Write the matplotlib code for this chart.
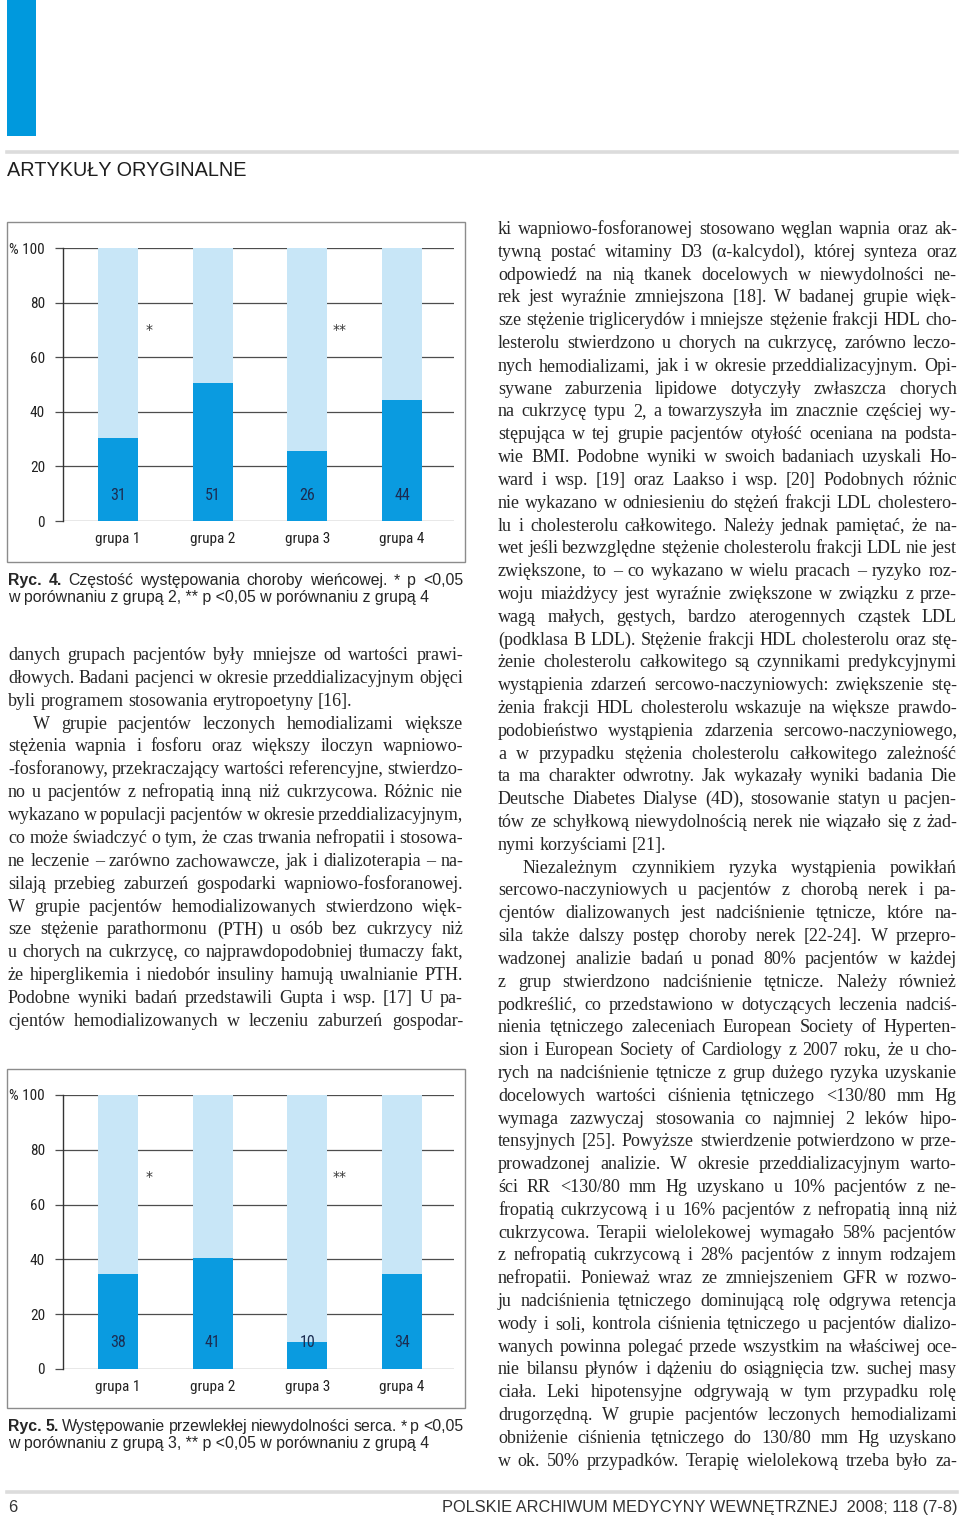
import matplotlib
matplotlib.use('Agg')
import matplotlib.pyplot as plt
from matplotlib.font_manager import FontProperties, fontManager
from matplotlib.patches import Rectangle
from matplotlib.lines import Line2D

# ---------------- data ----------------
groups = ['grupa 1', 'grupa 2', 'grupa 3', 'grupa 4']
fig4_values = [30.5, 50.5, 25.5, 44.5]
fig4_labels = ['31', '51', '26', '44']
fig5_values = [34.5, 40.5, 10, 34.5]
fig5_labels = ['38', '41', '10', '34']
yticks = [0, 20, 40, 60, 80, 100]
ytick_labels = ['0', '20', '40', '60', '80', '% 100']

header_text = 'ARTYKUŁY ORYGINALNE'
footer_left = '6'
footer_right = 'POLSKIE ARCHIWUM MEDYCYNY WEWNĘTRZNEJ  2008; 118 (7-8)'

cap4 = ['Ryc. 4.', 'Częstość występowania choroby wieńcowej. * p <0,05',
        'w porównaniu z grupą 2, ** p <0,05 w porównaniu z grupą 4']
cap5 = ['Ryc. 5.', 'Występowanie przewlekłej niewydolności serca. * p <0,05',
        'w porównaniu z grupą 3, ** p <0,05 w porównaniu z grupą 4']

left_lines = [
    'danych grupach pacjentów były mniejsze od wartości prawi-',
    'dłowych. Badani pacjenci w okresie przeddializacyjnym objęci',
    'byli programem stosowania erytropoetyny [16].',
    'W grupie pacjentów leczonych hemodializami większe',
    'stężenia wapnia i fosforu oraz większy iloczyn wapniowo-',
    '-fosforanowy, przekraczający wartości referencyjne, stwierdzo-',
    'no u pacjentów z nefropatią inną niż cukrzycowa. Różnic nie',
    'wykazano w populacji pacjentów w okresie przeddializacyjnym,',
    'co może świadczyć o tym, że czas trwania nefropatii i stosowa-',
    'ne leczenie – zarówno zachowawcze, jak i dializoterapia – na-',
    'silają przebieg zaburzeń gospodarki wapniowo-fosforanowej.',
    'W grupie pacjentów hemodializowanych stwierdzono więk-',
    'sze stężenie parathormonu (PTH) u osób bez cukrzycy niż',
    'u chorych na cukrzycę, co najprawdopodobniej tłumaczy fakt,',
    'że hiperglikemia i niedobór insuliny hamują uwalnianie PTH.',
    'Podobne wyniki badań przedstawili Gupta i wsp. [17] U pa-',
    'cjentów hemodializowanych w leczeniu zaburzeń gospodar-',
]
left_last = {2}
left_indent = {3}

right_lines = [
    'ki wapniowo-fosforanowej stosowano węglan wapnia oraz ak-',
    'tywną postać witaminy D3 (α-kalcydol), której synteza oraz',
    'odpowiedź na nią tkanek docelowych w niewydolności ne-',
    'rek jest wyraźnie zmniejszona [18]. W badanej grupie więk-',
    'sze stężenie triglicerydów i mniejsze stężenie frakcji HDL cho-',
    'lesterolu stwierdzono u chorych na cukrzycę, zarówno leczo-',
    'nych hemodializami, jak i w okresie przeddializacyjnym. Opi-',
    'sywane zaburzenia lipidowe dotyczyły zwłaszcza chorych',
    'na cukrzycę typu 2, a towarzyszyła im znacznie częściej wy-',
    'stępująca w tej grupie pacjentów otyłość oceniana na podsta-',
    'wie BMI. Podobne wyniki w swoich badaniach uzyskali Ho-',
    'ward i wsp. [19] oraz Laakso i wsp. [20] Podobnych różnic',
    'nie wykazano w odniesieniu do stężeń frakcji LDL cholestero-',
    'lu i cholesterolu całkowitego. Należy jednak pamiętać, że na-',
    'wet jeśli bezwzględne stężenie cholesterolu frakcji LDL nie jest',
    'zwiększone, to – co wykazano w wielu pracach – ryzyko roz-',
    'woju miażdżycy jest wyraźnie zwiększone w związku z prze-',
    'wagą małych, gęstych, bardzo aterogennych cząstek LDL',
    '(podklasa B LDL). Stężenie frakcji HDL cholesterolu oraz stę-',
    'żenie cholesterolu całkowitego są czynnikami predykcyjnymi',
    'wystąpienia zdarzeń sercowo-naczyniowych: zwiększenie stę-',
    'żenia frakcji HDL cholesterolu wskazuje na większe prawdo-',
    'podobieństwo wystąpienia zdarzenia sercowo-naczyniowego,',
    'a w przypadku stężenia cholesterolu całkowitego zależność',
    'ta ma charakter odwrotny. Jak wykazały wyniki badania Die',
    'Deutsche Diabetes Dialyse (4D), stosowanie statyn u pacjen-',
    'tów ze schyłkową niewydolnością nerek nie wiązało się z żad-',
    'nymi korzyściami [21].',
    'Niezależnym czynnikiem ryzyka wystąpienia powikłań',
    'sercowo-naczyniowych u pacjentów z chorobą nerek i pa-',
    'cjentów dializowanych jest nadciśnienie tętnicze, które na-',
    'sila także dalszy postęp choroby nerek [22-24]. W przepro-',
    'wadzonej analizie badań u ponad 80% pacjentów w każdej',
    'z grup stwierdzono nadciśnienie tętnicze. Należy również',
    'podkreślić, co przedstawiono w dotyczących leczenia nadciś-',
    'nienia tętniczego zaleceniach European Society of Hyperten-',
    'sion i European Society of Cardiology z 2007 roku, że u cho-',
    'rych na nadciśnienie tętnicze z grup dużego ryzyka uzyskanie',
    'docelowych wartości ciśnienia tętniczego <130/80 mm Hg',
    'wymaga zazwyczaj stosowania co najmniej 2 leków hipo-',
    'tensyjnych [25]. Powyższe stwierdzenie potwierdzono w prze-',
    'prowadzonej analizie. W okresie przeddializacyjnym warto-',
    'ści RR <130/80 mm Hg uzyskano u 10% pacjentów z ne-',
    'fropatią cukrzycową i u 16% pacjentów z nefropatią inną niż',
    'cukrzycowa. Terapii wielolekowej wymagało 58% pacjentów',
    'z nefropatią cukrzycową i 28% pacjentów z innym rodzajem',
    'nefropatii. Ponieważ wraz ze zmniejszeniem GFR w rozwo-',
    'ju nadciśnienia tętniczego dominującą rolę odgrywa retencja',
    'wody i soli, kontrola ciśnienia tętniczego u pacjentów dializo-',
    'wanych powinna polegać przede wszystkim na właściwej oce-',
    'nie bilansu płynów i dążeniu do osiągnięcia tzw. suchej masy',
    'ciała. Leki hipotensyjne odgrywają w tym przypadku rolę',
    'drugorzędną. W grupie pacjentów leczonych hemodializami',
    'obniżenie ciśnienia tętniczego do 130/80 mm Hg uzyskano',
    'w ok. 50% przypadków. Terapię wielolekową trzeba było za-',
]
right_last = {27}
right_indent = {28}

# ---------------- setup ----------------
W, H = 960, 1516
fig = plt.figure(figsize=(W / 100, H / 100), dpi=100)
fig.patch.set_facecolor('white')
renderer = fig.canvas.get_renderer()

names = {f.name for f in fontManager.ttflist}
SERIF = 'Liberation Serif' if 'Liberation Serif' in names else 'DejaVu Serif'
SANS = 'Liberation Sans' if 'Liberation Sans' in names else 'DejaVu Sans'
if 'Liberation Sans Narrow' in names:
    COND, tick_size, val_size = 'Liberation Sans Narrow', 11.5, 12
elif 'Roboto Condensed' in names:
    COND, tick_size, val_size = 'Roboto Condensed', 11, 11.5
else:
    COND, tick_size, val_size = SANS, 9.6, 10.5

TEXT_COLOR = '#262626'
DARK_BLUE = '#0a9be0'
LIGHT_BLUE = '#c8e6f7'


def fx(x):
    return x / W


def fy(y):
    return 1 - y / H


def twidth(s, prop):
    w, h, d = renderer.get_text_width_height_descent(s, prop, ismath=False)
    return w


def fit_size(s, family, target, weight='normal'):
    p = FontProperties(family=family, size=10, weight=weight)
    return 10 * target / twidth(s, p)


def put(x, y, s, prop, color=TEXT_COLOR, ha='left'):
    fig.text(fx(x), fy(y), s, fontproperties=prop, color=color,
             ha=ha, va='baseline')


def justify(tokens, x0, x1, ybase, color=TEXT_COLOR, do_justify=True):
    # tokens: list of (word, prop)
    widths = [twidth(w, p) for w, p in tokens]
    if do_justify and len(tokens) > 1:
        gap = (x1 - x0 - sum(widths)) / (len(tokens) - 1)
    else:
        sp = twidth('a a', tokens[0][1]) - twidth('aa', tokens[0][1])
        gap = sp
    x = x0
    for (w, p), ww in zip(tokens, widths):
        put(x, ybase, w, p, color)
        x += ww + gap


# ---------------- decorations ----------------
fig.add_artist(Rectangle((fx(7), fy(136)), fx(36) - fx(7), fy(0) - fy(136),
                         transform=fig.transFigure, facecolor='#0099dd',
                         edgecolor='none'))
for yl in (152, 1492):
    fig.add_artist(Line2D([fx(7), fx(957)], [fy(yl), fy(yl)],
                          transform=fig.transFigure, color='#dcdcdc', lw=2.6))

hs = fit_size(header_text, SANS, 240)
put(7, 176, header_text, FontProperties(family=SANS, size=hs), '#1e1e1e')

fs_foot = fit_size(footer_right, SANS, 514)
pf = FontProperties(family=SANS, size=fs_foot)
put(8, 1512, footer_left, pf, '#333333')
put(957, 1512, footer_right, pf, '#333333', ha='right')

# ---------------- charts ----------------
centers_px = [118, 213, 307, 402]
spacing = (centers_px[-1] - centers_px[0]) / 3.0
xl = (63 - centers_px[0]) / spacing
xr = 3 + (454 - centers_px[-1]) / spacing
barw = 40 / spacing
tick_prop = FontProperties(family=COND, size=tick_size)
val_prop = FontProperties(family=COND, size=val_size)


def draw_chart(box_top, box_bot, ax_top, ax_bot, values, labels):
    fig.add_artist(Rectangle((fx(7), fy(box_bot)), fx(465) - fx(7),
                             fy(box_top) - fy(box_bot),
                             transform=fig.transFigure, facecolor='none',
                             edgecolor='#8c8c8c', lw=1.0))
    ax = fig.add_axes([fx(63), fy(ax_bot), fx(454) - fx(63),
                       fy(ax_top) - fy(ax_bot)])
    ax.set_facecolor('none')
    x = list(range(len(groups)))
    rest = [100 - v for v in values]
    ax.bar(x, values, width=barw, color=DARK_BLUE, zorder=3)
    ax.bar(x, rest, bottom=values, width=barw, color=LIGHT_BLUE, zorder=3)
    ax.set_xlim(xl, xr)
    ax.set_ylim(0, 100)
    ax.set_yticks(yticks)
    ax.set_yticklabels(ytick_labels)
    ax.yaxis.grid(True, color='#4d4d4d', lw=0.9, zorder=0)
    ax.set_axisbelow(True)
    ax.set_xticks(x)
    ax.set_xticklabels(groups)
    for s in ('top', 'right', 'bottom'):
        ax.spines[s].set_visible(False)
    ax.spines['left'].set_color('#333333')
    ax.spines['left'].set_linewidth(1.0)
    ax.spines['left'].set_zorder(4)
    ax.tick_params(axis='y', length=6, width=0.9, color='#4d4d4d', pad=7,
                   labelcolor='#222222')
    ax.tick_params(axis='x', length=0, pad=8, labelcolor='#222222')
    for lab in ax.get_yticklabels() + ax.get_xticklabels():
        lab.set_fontproperties(tick_prop)
    for xi, lab in zip(x, labels):
        ax.text(xi, 9.5, lab, ha='center', va='center', fontproperties=val_prop,
                color='#1c2d52', zorder=5)
    ax.text(0.33, 70, '*', ha='center', va='center', fontsize=10,
            color='#333333', zorder=5)
    ax.text(2.34, 70, '**', ha='center', va='center', fontsize=10,
            color='#333333', zorder=5)
    return ax


draw_chart(222, 562, 248, 521, fig4_values, fig4_labels)
draw_chart(1069, 1408, 1095, 1369, fig5_values, fig5_labels)

# ---------------- captions ----------------
cap_fs = fit_size(cap4[2], SANS, 422)
cap_n = FontProperties(family=SANS, size=cap_fs)
cap_b = FontProperties(family=SANS, size=cap_fs, weight='bold')


def caption(cap, y1, y2):
    toks = [(w, cap_b) for w in cap[0].split(' ')] + \
           [(w, cap_n) for w in cap[1].split(' ')]
    justify(toks, 8, 463, y1)
    put(8, y2, cap[2], cap_n)


caption(cap4, 585, 602)
caption(cap5, 1431, 1448)

# ---------------- body text ----------------
s1 = fit_size('byli programem stosowania erytropoetyny [16].', SERIF, 354)
s2 = fit_size('nymi korzyściami [21].', SERIF, 174)
body_fs = 0.97 * (s1 + s2) / 2
MIN_GAP = 3.2


def column(lines, x0, x1, y0, step, last, indent):
    for i, line in enumerate(lines):
        xs = x0 + (25 if i in indent else 0)
        words = line.split(' ')
        size = body_fs
        if i not in last and len(words) > 1:
            p = FontProperties(family=SERIF, size=size)
            tot = sum(twidth(w, p) for w in words)
            avail = (x1 - xs) - MIN_GAP * (len(words) - 1)
            if tot > avail:
                size = size * avail / tot
        p = FontProperties(family=SERIF, size=size)
        toks = [(w, p) for w in words]
        justify(toks, xs, x1, y0 + i * step, do_justify=(i not in last))


column(left_lines, 8, 463, 660, 22.87, left_last, left_indent)
column(right_lines, 498, 957, 234, 22.81, right_last, right_indent)

fig.savefig('out.png', dpi=100, facecolor='white')
